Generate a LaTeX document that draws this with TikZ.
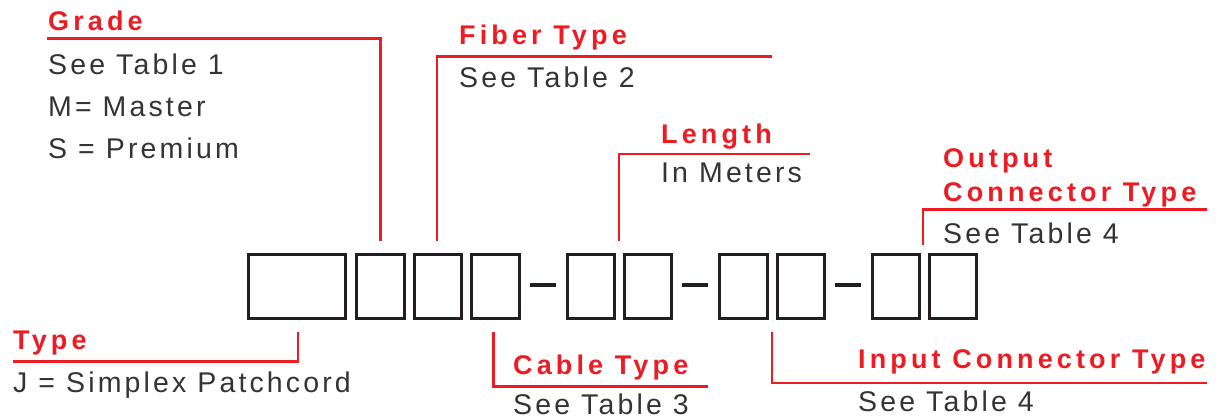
\documentclass[tikz,border=0pt]{standalone}
\usepackage{fontspec}
\setmainfont{Liberation Sans}
\newfontfamily\regfont[LetterSpace=11]{Liberation Sans}
\newfontfamily\hdfont[LetterSpace=15.3]{Liberation Sans}
\usetikzlibrary{calc}
\definecolor{leadred}{HTML}{ED1C24}
\definecolor{txtgray}{HTML}{333338}
\definecolor{boxgray}{HTML}{231F20}
\tikzset{
  head/.style={anchor=base west, inner sep=0pt, text=leadred, font={\hdfont\bfseries\fontsize{27}{30}\selectfont}},
  desc/.style={anchor=base west, inner sep=0pt, text=txtgray, font={\regfont\fontsize{28.5}{32}\selectfont}},
  lead/.style={draw=leadred, line width=2.6pt},
  slot/.style={draw=boxgray, line width=3pt, minimum height=64pt, inner sep=0pt},
  sepdash/.style={draw=boxgray, line width=4pt, shorten <=9.5pt, shorten >=9.5pt}
}
\begin{document}
\begin{tikzpicture}[x=1pt, y=-1pt]
\useasboundingbox (0,0) rectangle (1216,418);
% slots
\node[slot, minimum width=97pt] (b1) at (296.5,286) {};
\node[slot, minimum width=48pt] (b2) at (380,286) {};
\node[slot, minimum width=47pt] (b3) at (437.5,286) {};
\node[slot, minimum width=48pt] (b4) at (495,286) {};
\node[slot, minimum width=47pt] (b5) at (590.5,286) {};
\node[slot, minimum width=47pt] (b6) at (647.5,286) {};
\node[slot, minimum width=48pt] (b7) at (743,286) {};
\node[slot, minimum width=47pt] (b8) at (800.5,286) {};
\node[slot, minimum width=47pt] (b9) at (895.5,286) {};
\node[slot, minimum width=47pt] (b10) at (952.5,286) {};
% separators
\draw[sepdash] ($(b4.east)+(0,-1)$) -- ($(b5.west)+(0,-1)$);
\draw[sepdash] ($(b6.east)+(0,-1)$) -- ($(b7.west)+(0,-1)$);
\draw[sepdash] ($(b8.east)+(0,-1)$) -- ($(b9.west)+(0,-1)$);
% labels
\node[head] (grade) at (48,30) {Grade};
\node[desc] (grade1) at (48,74) {See Table 1};
\node[desc] (grade2) at (48,116) {M= Master};
\node[desc] (grade3) at (48,158) {S = Premium};
\node[head] (fiber) at (459,44) {Fiber Type};
\node[desc] (fiber1) at (459,87) {See Table 2};
\node[head] (length) at (661,143) {Length};
\node[desc] (length1) at (661,182) {In Meters};
\node[head] (output) at (943,167) {Output};
\node[head] (output2) at (943,201) {Connector Type};
\node[desc] (output1) at (943,243) {See Table 4};
\node[head] (type) at (13,349) {Type};
\node[desc] (type1) at (13,392) {J = Simplex Patchcord};
\node[head] (cable) at (513,374) {Cable Type};
\node[desc] (cable1) at (513,414) {See Table 3};
\node[head] (input) at (858,368) {Input Connector Type};
\node[desc] (input1) at (858,411) {See Table 4};
% leader end points
\coordinate (gradeL) at (47,38.5);
\coordinate (fiberR) at (772,56.5);
\coordinate (lengthR) at (810,154);
\coordinate (outputR) at (1207,209.3);
\coordinate (typeL) at (13,361.5);
\coordinate (cableR) at (708,386.7);
\coordinate (inputR) at (1207,383);
% leaders
\draw[lead] ($(b2.north)+(0.5,-12)$) |- (gradeL);
\draw[lead] ($(b3.north)+(-0.5,-12)$) |- (fiberR);
\draw[lead] ($(b5.north east)!0.5!(b6.north west)+(0,-12)$) |- (lengthR);
\draw[lead] ($(b9.north east)!0.5!(b10.north west)+(-1,-8)$) |- (outputR);
\draw[lead] ($(b1.south)+(1.5,12)$) |- (typeL);
\draw[lead] ($(b4.south)+(-1.5,12)$) |- (cableR);
\draw[lead] ($(b7.south east)!0.5!(b8.south west)+(0,12)$) |- (inputR);
\end{tikzpicture}
\end{document}
